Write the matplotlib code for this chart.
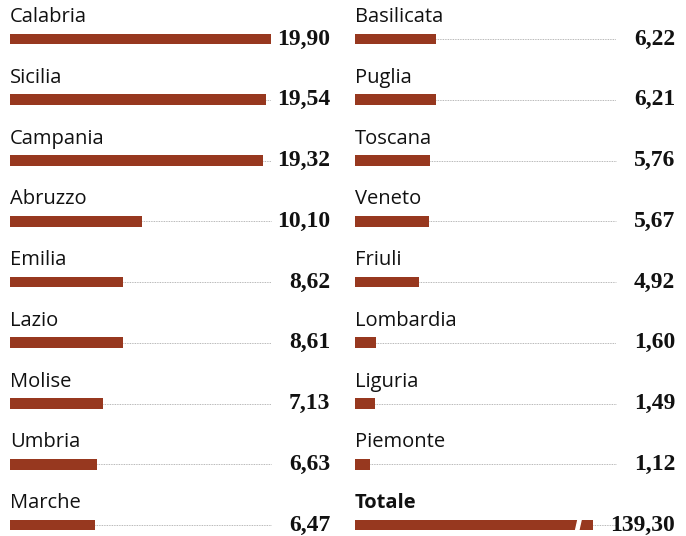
import matplotlib.pyplot as plt
import numpy as np
from matplotlib.patches import Polygon

# regions, left column
left_names = ['Calabria', 'Sicilia', 'Campania', 'Abruzzo', 'Emilia',
              'Lazio', 'Molise', 'Umbria', 'Marche']
left_vals = [19.90, 19.54, 19.32, 10.10, 8.62, 8.61, 7.13, 6.63, 6.47]

# right column (last one is the total)
right_names = ['Basilicata', 'Puglia', 'Toscana', 'Veneto', 'Friuli',
               'Lombardia', 'Liguria', 'Piemonte', 'Totale']
right_vals = [6.22, 6.21, 5.76, 5.67, 4.92, 1.60, 1.49, 1.12, 139.30]

bar_color = '#97381f'
cap = 18.2        # the total does not fit, so its bar is drawn broken
px = 13.1         # pixels per unit

fig = plt.figure(figsize=(6.86, 5.36), dpi=100)
W, H = 686, 536


def column(x0, names, vals):
    ax = fig.add_axes([x0 / W, 0, 325 / W, 1])
    ax.set_xlim(0, 325 / px)
    ax.set_ylim(8 + 11 / 60.75, -39 / 60.75)
    ax.axis('off')
    y = np.arange(len(names))
    vals = np.array(vals)
    shown = np.where(vals > 25, cap, vals)
    ax.barh(y, shown, height=0.18, color=bar_color, edgecolor='none')
    for i, (n, v, s) in enumerate(zip(names, vals, shown)):
        bold = 'bold' if n == 'Totale' else 'normal'
        ax.text(0, i - 0.362, n, fontsize=14.5, family='Open Sans',
                fontweight=bold, va='center', ha='left', color='#111111')
        if s < 19.6:
            ax.plot([s, 19.9], [i, i], color='#a0a0a0', lw=0.6,
                    ls=(0, (1, 1)))
        ax.text(24.45, i, f'{v:.2f}'.replace('.', ','), fontsize=17,
                family='Liberation Serif', fontweight='bold',
                va='center', ha='right', color='#111111')
        if v > 25:
            # break mark on the total bar
            b = cap - 1.4
            ax.add_patch(Polygon([[b, i + 0.12], [b + 0.25, i - 0.12],
                                  [b + 0.5, i - 0.12], [b + 0.25, i + 0.12]],
                                 closed=True, color='white', zorder=3))
    return ax


column(10, left_names, left_vals)
column(355, right_names, right_vals)

fig.savefig('out.png', dpi=100)
